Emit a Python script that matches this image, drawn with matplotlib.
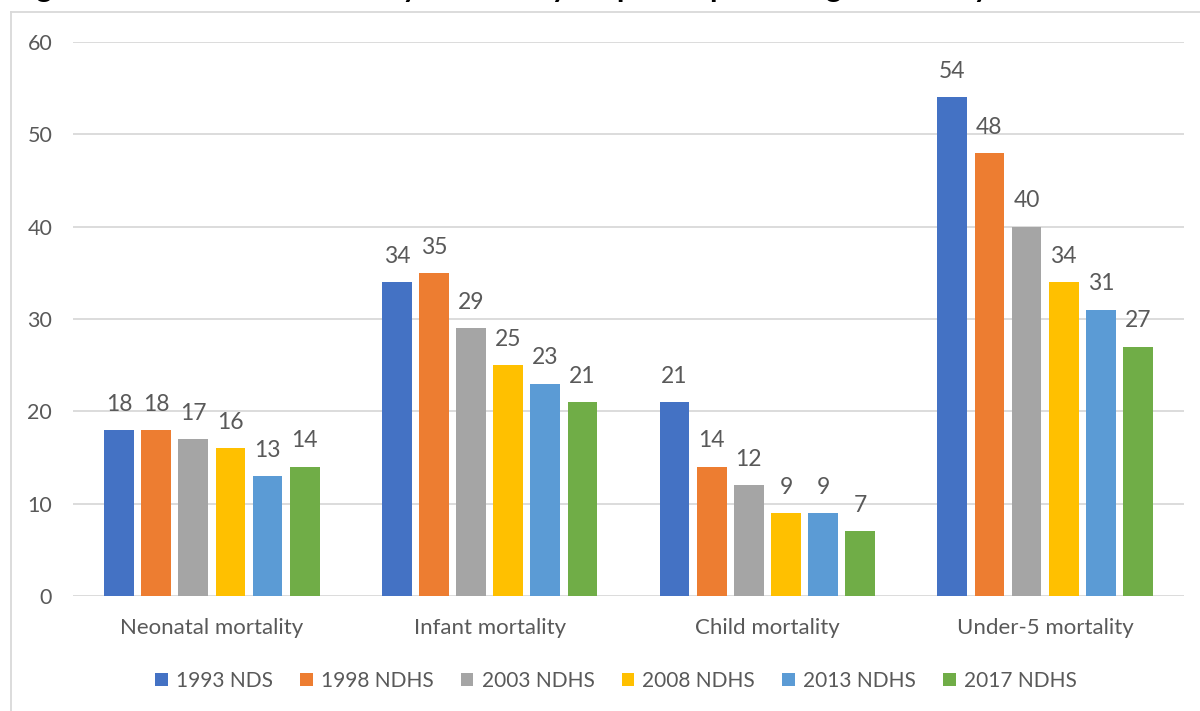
"""Childhood mortality across survey rounds — grouped bar chart."""

import matplotlib
matplotlib.use("Agg")
import matplotlib.pyplot as plt
from matplotlib.lines import Line2D
import numpy as np

plt.rcParams["font.family"] = ["Lato", "DejaVu Sans"]

# Data
categories = ["Neonatal mortality", "Infant mortality",
              "Child mortality", "Under-5 mortality"]
surveys = ["1993 NDS", "1998 NDHS", "2003 NDHS",
           "2008 NDHS", "2013 NDHS", "2017 NDHS"]
rate_1993 = [18, 34, 21, 54]
rate_1998 = [18, 35, 14, 48]
rate_2003 = [17, 29, 12, 40]
rate_2008 = [16, 25, 9, 34]
rate_2013 = [13, 23, 9, 31]
rate_2017 = [14, 21, 7, 27]
series = [rate_1993, rate_1998, rate_2003, rate_2008, rate_2013, rate_2017]
yticks = [0, 10, 20, 30, 40, 50, 60]

colors = ["#4472C4", "#ED7D31", "#A5A5A5", "#FFC000", "#5B9BD5", "#70AD47"]
TEXT = "#595959"
GRID = "#D9D9D9"

W, H = 1200, 711
fig = plt.figure(figsize=(W / 100, H / 100), dpi=100)
ax = fig.add_axes([73 / W, 1 - 596 / H, 1111 / W, 554 / H])

x = np.arange(len(categories))
step = 0.1336
width = 0.107
for i, (vals, col, name) in enumerate(zip(series, colors, surveys)):
    pos = x + (i - 2.5) * step
    bars = ax.bar(pos, vals, width=width, color=col, label=name, zorder=3)
    ax.bar_label(bars, padding=11, fontsize=16.5, color=TEXT)

ax.set_xlim(-0.5, len(categories) - 0.5)
ax.set_ylim(0, 60)
ax.set_yticks(yticks)
ax.set_xticks(x)
ax.set_xticklabels(categories, fontsize=16)
ax.tick_params(axis="both", length=0, colors=TEXT)
ax.tick_params(axis="y", labelsize=15.5, pad=15)
ax.tick_params(axis="x", pad=16)
ax.grid(axis="y", color=GRID, linewidth=1.3, zorder=0)
for side in ["top", "right", "left", "bottom"]:
    ax.spines[side].set_visible(False)

leg = fig.legend(loc="center", bbox_to_anchor=(616 / W, 1 - 681 / H),
                 ncol=6, frameon=False, fontsize=15,
                 handlelength=0.6, handleheight=0.6, handletextpad=0.4,
                 columnspacing=1.3)
for t in leg.get_texts():
    t.set_color(TEXT)

# chart frame (top and left edges visible)
fig.add_artist(Line2D([11 / W, 1.0], [1 - 12 / H, 1 - 12 / H],
                      transform=fig.transFigure, color=GRID, linewidth=1.3))
fig.add_artist(Line2D([11 / W, 11 / W], [0, 1 - 12 / H],
                      transform=fig.transFigure, color=GRID, linewidth=1.3))

# title, mostly cropped off the top of the image as in the source
fig.text(12 / W, 1 + 3 / H,
         "Figure 8.1 Childhood mortality for the 5-year period preceding the survey",
         fontsize=21.5, fontweight="bold", color="black", va="baseline",
         ha="left")

fig.savefig("out.png", dpi=100, facecolor="white")
